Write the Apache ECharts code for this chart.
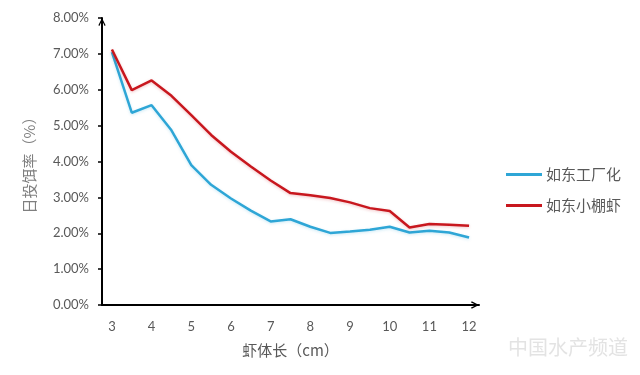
<!DOCTYPE html>
<html><head><meta charset="utf-8">
<script src="https://cdn.jsdelivr.net/npm/echarts@6/dist/echarts.min.js"></script>
<style>html,body{margin:0;padding:0;background:#fff}#c{width:640px;height:375px}</style>
</head><body><div id="c"></div>
<script>
var categories = ['3','3.5','4','4.5','5','5.5','6','6.5','7','7.5','8','8.5','9','9.5','10','10.5','11','11.5','12'];
var factoryValues = [7.05,5.36,5.57,4.87,3.90,3.35,2.97,2.63,2.33,2.39,2.18,2.01,2.05,2.10,2.18,2.02,2.07,2.02,1.88];
var shedValues = [7.12,5.99,6.26,5.83,5.29,4.74,4.27,3.86,3.47,3.12,3.06,2.98,2.86,2.70,2.62,2.16,2.26,2.24,2.21];
var seriesNames = ['如东工厂化','如东小棚虾'];
var xName = '虾体长（cm）';
var yName = '日投饵率（%）';

var FONT = 'Lato, "Noto Sans CJK SC", sans-serif';
var CJK = '"Noto Sans CJK SC", sans-serif';
var chevron = 'path://M0,10 L5,0 L10,10 L8.6,11 L5,3.6 L1.4,11 Z';
var chart = echarts.init(document.getElementById('c'));
chart.setOption({
  animation: false,
  grid: {left: 102, right: 161, top: 18, bottom: 70, containLabel: false},
  legend: {
    orient: 'vertical', left: 506, top: 167, padding: 0, itemWidth: 36, itemHeight: 3, itemGap: 16,
    icon: 'rect',
    textStyle: {fontFamily: CJK, fontSize: 15, color: '#595959', padding: [0,0,0,-1]},
    data: seriesNames
  },
  xAxis: {
    type: 'category', data: categories, boundaryGap: true,
    name: xName, nameLocation: 'middle', nameGap: 38,
    nameTextStyle: {fontFamily: CJK, fontSize: 15, color: '#595959'},
    axisLine: {lineStyle: {color: '#000', width: 2}, symbol: ['none', chevron], symbolSize: [14, 8], symbolOffset: [0, -4]},
    axisTick: {show: false},
    axisLabel: {interval: 1, margin: 15, fontFamily: FONT, fontSize: 13, color: '#595959'},
    splitLine: {show: false}
  },
  yAxis: {
    type: 'value', min: 0, max: 0.08, interval: 0.01,
    name: yName, nameLocation: 'middle', nameGap: 65, nameRotate: 90,
    nameTextStyle: {fontFamily: CJK, fontSize: 15, color: '#7f7f7f'},
    axisLine: {show: true, lineStyle: {color: '#000', width: 2}, symbol: ['none', chevron], symbolSize: [14, 8], symbolOffset: [0, -4]},
    axisTick: {show: true, length: 4, lineStyle: {color: '#000', width: 1.5}},
    axisLabel: {margin: 13, fontFamily: FONT, fontSize: 13, color: '#595959',
      formatter: function (v) { return (v * 100).toFixed(2) + '%'; }},
    splitLine: {show: false}
  },
  graphic: [{type: 'text', right: 12, bottom: 18, silent: true,
    style: {text: '中国水产频道', fontFamily: CJK, fontSize: 20, fill: 'rgba(200,200,200,0.5)'}}],
  series: [
    {name: seriesNames[0], type: 'line', data: factoryValues.map(function(v){return v/100;}),
     symbol: 'none', color: '#2EA6D6',
     lineStyle: {width: 2.5, color: '#2EA6D6', shadowColor: 'rgba(46,166,214,0.25)', shadowBlur: 3, shadowOffsetY: 1}},
    {name: seriesNames[1], type: 'line', data: shedValues.map(function(v){return v/100;}),
     symbol: 'none', color: '#C8171E',
     lineStyle: {width: 2.5, color: '#C8171E', shadowColor: 'rgba(200,23,30,0.25)', shadowBlur: 3, shadowOffsetY: 1}}
  ]
});
</script></body></html>
